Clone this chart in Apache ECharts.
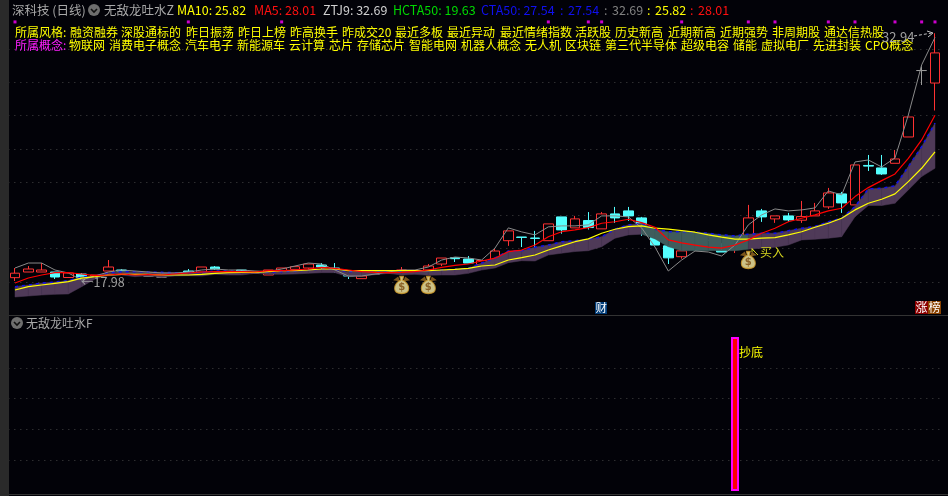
<!DOCTYPE html>
<html><head><meta charset="utf-8">
<style>html,body{margin:0;padding:0;background:#020208}#c{width:948px;height:496px}</style>
<script src="https://cdn.jsdelivr.net/npm/echarts@6/dist/echarts.min.js"></script>
</head><body><div id="c"></div>
<script>
// [open, close, low, high]
const candles = [
[18.26,18.53,18.06,18.84],[18.6,18.78,18.6,18.96],[18.6,18.72,18.6,19.14],[18.6,18.3,18.18,18.6],[18.27,18.54,18.27,18.6],
[18.48,18.24,17.98,18.54],[18.36,18.42,18.36,18.42],[18.66,18.9,18.66,19.32],[18.72,18.66,18.66,18.78],[18.5,18.56,18.5,18.56],
[18.36,18.36,18.36,18.36],[18.3,18.3,18.3,18.3],[18.4,18.46,18.4,18.46],[18.66,18.6,18.6,18.78],[18.6,18.9,18.6,18.9],
[18.9,18.78,18.72,18.96],[18.54,18.54,18.54,18.54],[18.72,18.66,18.66,18.72],[18.54,18.54,18.54,18.54],[18.42,18.72,18.42,18.72],
[18.66,18.84,18.66,18.84],[18.76,18.92,18.76,18.92],[18.84,19.08,18.72,19.08],[19.02,18.9,18.78,19.14],[18.84,18.78,18.54,19.14],
[18.46,18.36,18.18,18.46],[18.2,18.36,18.2,18.36],[18.46,18.46,18.46,18.46],[18.54,18.6,18.54,18.6],[18.66,18.72,18.66,18.9],
[18.54,18.54,18.54,18.54],[18.72,18.96,18.72,19.08],[19.08,19.44,18.96,19.44],[19.46,19.4,19.2,19.46],[19.38,19.14,19.14,19.56],
[19.05,19.29,19.05,19.29],[19.32,19.86,19.2,20.0],[20.48,21.07,20.17,21.07],[20.7,20.68,20.1,20.7],[20.64,20.62,20.1,21.07],
[20.48,21.49,20.48,21.49],[21.91,21.13,20.9,21.91],[21.25,21.79,21.25,21.97],[21.69,21.27,21.15,22.2],[21.19,22.09,21.19,22.2],
[22.09,21.85,21.55,22.51],[22.27,21.97,21.67,22.51],[21.85,21.43,20.77,21.91],[20.7,20.22,20.22,20.9],[20.17,19.45,19.08,20.17],
[19.52,19.87,19.4,19.87],[20.4,20.6,20.4,20.6],[20.5,20.7,20.5,20.7],[20.3,19.8,19.8,20.3],[20.0,20.6,19.74,20.7],
[20.53,21.85,20.53,22.63],[22.27,21.91,21.61,22.39],[21.79,21.97,21.55,21.97],[21.97,21.73,21.61,22.15],[21.71,21.93,21.55,22.87],
[21.97,22.27,21.97,22.75],[22.51,23.35,22.39,23.65],[23.29,22.75,22.15,23.41],[22.63,25.03,22.63,25.03],[25.0,24.96,24.67,25.63],
[24.85,24.49,24.43,25.63],[25.13,25.39,25.13,25.93],[26.71,27.91,26.71,27.91],[30.7,30.7,29.83,30.95],[29.95,31.76,28.3,32.94]];
const ztj9 = [18.84,19.14,19.14,18.72,18.54,18.12,18.36,18.6,18.72,18.66,
18.6,18.54,18.54,18.6,18.72,18.78,18.72,18.72,18.66,18.63,
18.78,18.96,19.14,19.08,18.72,18.36,18.36,18.48,18.6,18.72,
18.72,18.9,19.32,19.5,19.44,19.32,20.04,21.25,21.01,20.83,
21.31,21.37,21.37,21.43,21.97,21.97,21.91,21.25,20.1,18.66,
19.32,19.86,19.8,19.56,20.22,21.43,22.03,22.39,22.27,22.33,
22.45,23.47,23.23,25.21,25.33,24.91,25.45,28.03,31.04,32.69];
const ma5 = [17.94,18.24,18.42,18.56,18.56,18.48,18.38,18.42,18.48,18.42,
18.45,18.42,18.48,18.54,18.6,18.62,18.63,18.62,18.6,18.68,
18.68,18.72,18.78,18.88,18.82,18.72,18.62,18.58,18.56,18.58,
18.62,18.72,18.88,19.0,19.08,19.26,19.43,19.82,19.92,20.22,
20.72,21.02,21.13,21.27,21.53,21.62,21.77,21.57,21.29,20.53,
20.35,20.22,20.09,20.03,20.22,20.53,20.93,21.23,21.62,21.83,
22.03,22.27,22.43,23.13,23.67,24.09,24.49,25.43,26.53,28.01];
const ma10 = [17.52,17.72,17.82,17.92,18.02,18.23,18.32,18.42,18.46,18.46,
18.46,18.42,18.42,18.42,18.46,18.52,18.56,18.58,18.58,18.62,
18.68,18.68,18.72,18.78,18.78,18.68,18.68,18.68,18.68,18.68,
18.68,18.68,18.72,18.76,18.82,18.96,19.02,19.32,19.46,19.62,
19.92,20.17,20.42,20.59,20.93,21.17,21.33,21.37,21.23,21.17,
21.08,20.99,20.83,20.69,20.57,20.57,20.63,20.66,20.83,21.02,
21.29,21.53,21.83,22.33,22.73,22.97,23.29,24.03,24.83,25.82];
const cta50 = [17.72,17.82,17.94,18.0,18.08,18.3,18.36,18.56,18.62,18.62,
18.6,18.58,18.56,18.56,18.58,18.66,18.66,18.62,18.58,18.58,
18.62,18.66,18.72,18.78,18.76,18.62,18.66,18.66,18.66,18.66,
18.66,18.68,18.72,18.76,18.82,19.14,19.44,19.86,19.88,20.09,
20.22,20.42,20.48,20.57,20.72,21.17,21.43,21.53,21.17,21.02,
21.02,20.99,20.93,20.83,20.77,20.87,20.93,20.93,21.08,21.23,
21.33,21.62,21.83,22.53,23.59,23.63,23.77,24.93,26.13,27.54];
const bandLow = [17.1,17.16,17.22,17.26,17.28,17.72,18.18,18.38,18.42,18.32,
18.38,18.29,18.36,18.38,18.36,18.46,18.42,18.42,18.52,18.46,
18.46,18.48,18.52,18.56,18.56,18.32,18.36,18.44,18.52,18.42,
18.46,18.4,18.42,18.42,18.52,18.72,18.84,19.16,19.28,19.26,
19.62,19.73,19.83,19.88,20.12,20.63,20.83,20.87,20.59,20.12,
19.88,19.88,19.88,19.88,19.88,19.97,20.03,20.09,20.22,20.53,
20.57,20.63,20.72,21.92,22.59,22.59,22.73,23.53,24.33,24.83];
const tealDays = [47,48,49,50,51,52,53,54];
const flagDays = [0,13,20,40,43,44,50,55,57,61,63,66,68,69];
const flagLevel = 33.62;
const bagPoints = [[29,17.82],[31,17.82],[55,19.32]];
const signal = {day:54, value:1};
const highLabel = '32.94', lowLabel = '17.98';
const days = candles.map((_,i)=>String(i));

const titleParts = [
 ['深科技 (日线)',12,'#a8a8a8'],['无敌龙吐水Z',104,'#a8a8a8'],['MA10: 25.82',177,'#ffff00'],['MA5: 28.01',254,'#ff1010'],
 ['ZTJ9: 32.69',323,'#d0d0d0'],['HCTA50: 19.63',393,'#00d800'],['CTA50: 27.54',481,'#1010f0'],[':',560,'#1010f0'],['27.54',568,'#1010f0'],
 [':',604,'#808080'],['32.69',612,'#808080'],[':',647,'#ffff00'],['25.82',655,'#ffff00'],[':',690,'#ff1010'],['28.01',698,'#ff1010']];
const styleTags = [['融资融券',70],['深股通标的',121],['昨日振荡',186],['昨日上榜',238],['昨高换手',290],['昨成交20',342],['最近多板',395],['最近异动',447],['最近情绪指数',500],['活跃股',575],['历史新高',615],['近期新高',668],['近期强势',720],['非周期股',772],['通达信热股',824]];
const conceptTags = [['物联网',69],['消费电子概念',109],['汽车电子',185],['新能源车',237],['云计算',289],['芯片',329],['存储芯片',357],['智能电网',409],['机器人概念',461],['无人机',525],['区块链',565],['第三代半导体',605],['超级电容',681],['储能',733],['虚拟电厂',761],['先进封装',813],['CPO概念',865]];

const FONT = '"Noto Sans CJK SC","Noto Sans",sans-serif';
const T = (text,x,y,fill,size,extra)=>({type:'text',silent:true,z:50,x,y,style:Object.assign({text,fill,font:`${size||12}px ${FONT}`,textVerticalAlign:'middle'},extra||{})});
const R = (x,y,w,h,fill)=>({type:'rect',silent:true,z:49,shape:{x,y,width:w,height:h},style:{fill}});
const chevron = (cx,cy)=>[
 {type:'circle',silent:true,z:50,shape:{cx,cy,r:6},style:{fill:'#6e6e6e'}},
 {type:'polyline',silent:true,z:51,shape:{points:[[cx-3,cy-1],[cx,cy+2],[cx+3,cy-1]]},style:{stroke:'#111',lineWidth:1.6,fill:'none'}}];

const graphics = [
 R(0,0,9,496,'#2a2a2a'), R(9,315,939,1,'#333333'), R(9,494,939,1,'#333333'),
 ...chevron(94,10), ...chevron(17,323),
 ...titleParts.map(p=>T(p[0],p[1],10,p[2],12.5)),
 T('所属风格:',15,32,'#ffff00',12), ...styleTags.map(p=>T(p[0],p[1],32,'#ffff00',12)),
 T('所属概念:',15,45,'#ff20ff',12), ...conceptTags.map(p=>T(p[0],p[1],45,'#ffff00',12)),
 T(highLabel,882,37,'#a0a0a0',13), T('←'+lowLabel,81,282,'#a0a0a0',12.5),
 {type:'polyline',silent:true,z:50,shape:{points:[[914,36],[932,33]]},style:{stroke:'#c0c0c0',lineWidth:1,lineDash:[3,2],fill:'none'}},
 {type:'polyline',silent:true,z:50,shape:{points:[[927,31],[933,33],[928,37]]},style:{stroke:'#c0c0c0',lineWidth:1,fill:'none'}},
 {type:'polyline',silent:true,z:50,shape:{points:[[755,252],[752,248.5],[752,252]]},style:{stroke:'#d8d820',lineWidth:1,fill:'none'}},
 {type:'polyline',silent:true,z:50,shape:{points:[[758,255],[752,249]]},style:{stroke:'#d8d820',lineWidth:1,fill:'none'}},
 T('买入',760,252,'#d2d21e',12),
 R(595,302,12,12,'#003c78'), T('财',595.5,308,'#ffffff',11.5),
 R(915,301,13,13,'#8c0000'), R(928,301,13,13,'#8a4200'),
 T('涨',915.5,307.5,'#ffffff',12), T('榜',928.5,307.5,'#ffffff',12),
 T('无敌龙吐水F',26,323,'#a8a8a8',12),
 T('抄底',739,352,'#ffff00',12)
];

const bagPath = 'path://M6 1 L10 1 L9 5 C13 7 15.5 10.5 15.5 14 C15.5 18 12 19.5 8 19.5 C4 19.5 0.5 18 0.5 14 C0.5 10.5 3 7 7 5 Z';
const earPath = 'path://M0 3 L5 0 L7 4 Z M17 3 L12 0 L10 4 Z';

const line = (name,data,color,width,z)=>({name,type:'line',data,xAxisIndex:0,yAxisIndex:0,showSymbol:false,symbol:'none',z,lineStyle:{color,width},silent:true,animation:false});

const bandRows = cta50.slice(0,-1).map((top,i)=>[i,bandLow[i],top,bandLow[i+1],cta50[i+1]]);
function renderBand(params,api){
  const i=api.value(0);
  const p=[api.coord([i,api.value(2)]),api.coord([i+1,api.value(4)]),api.coord([i+1,api.value(3)]),api.coord([i,api.value(1)])];
  const col=tealDays.includes(i)?'#3f5c5c':'#4f3a58';
  return {type:'polygon',shape:{points:p},style:{fill:col,stroke:col,lineWidth:0.5}};
}

const option = {
 backgroundColor:'#020208', animation:false,
 graphic:graphics,
 grid:[{left:8.33,width:933.33,top:15.6,height:299.7},{left:8.33,width:933.33,top:337,height:154}],
 xAxis:[
  {type:'category',gridIndex:0,data:days,boundaryGap:true,axisLine:{show:false},axisTick:{show:false},axisLabel:{show:false},splitLine:{show:false}},
  {type:'category',gridIndex:1,data:days,boundaryGap:true,axisLine:{show:false},axisTick:{show:false},axisLabel:{show:false},splitLine:{show:false}}],
 yAxis:[
  {type:'value',gridIndex:0,min:16,max:34,interval:2,axisLine:{show:false},axisTick:{show:false},axisLabel:{show:false},
   splitLine:{show:true,showMinLine:false,showMaxLine:false,lineStyle:{color:'#444444',type:[1,5],width:1}}},
  {type:'value',gridIndex:1,min:0,max:1,interval:0.2,axisLine:{show:false},axisTick:{show:false},axisLabel:{show:false},
   splitLine:{show:true,showMinLine:false,showMaxLine:false,lineStyle:{color:'#444444',type:[1,5],width:1}}}],
 series:[
  {name:'K',type:'candlestick',xAxisIndex:0,yAxisIndex:0,data:candles,barWidth:10,z:1,silent:true,
   itemStyle:{color:'#020208',color0:'#54ffff',borderColor:'#ff3232',borderColor0:'#54ffff',borderColorDoji:'#9a9a9a',borderWidth:1}},
  {name:'band',type:'custom',xAxisIndex:0,yAxisIndex:0,z:2,silent:true,data:bandRows,renderItem:renderBand,encode:{x:0,y:[1,2,3,4]}},
  Object.assign(line('CTA50',cta50,'#1010f0',1.5,3),{lineStyle:{color:'#1010f0',width:1.5,type:[3,4]}}),
  line('ZTJ9',ztj9,'#8a8a8a',1,4),
  line('MA10',ma10,'#ffff00',1.2,5),
  line('MA5',ma5,'#ff0000',1.2,6),
  {name:'flags',type:'scatter',xAxisIndex:0,yAxisIndex:0,symbol:'rect',symbolSize:3,silent:true,z:7,
   data:flagDays.map(d=>[String(d),flagLevel]),itemStyle:{color:'#ff00ff'}},
  {name:'bagEars',type:'scatter',xAxisIndex:0,yAxisIndex:0,symbol:earPath,symbolSize:[17,5],symbolOffset:[0,-6],silent:true,z:8,
   data:bagPoints.map(p=>[String(p[0]),p[1]]),itemStyle:{color:'#9a6a20'}},
  {name:'bags',type:'scatter',xAxisIndex:0,yAxisIndex:0,symbol:bagPath,symbolSize:[14,17],silent:true,z:9,
   data:bagPoints.map(p=>[String(p[0]),p[1]]),itemStyle:{color:'#fff2a8',borderColor:'#d09a28',borderWidth:1.2},
   label:{show:true,position:'inside',formatter:'$',color:'#7a4a10',fontSize:10,fontWeight:'bold',offset:[0,2],fontFamily:'DejaVu Sans'}},
  {name:'signal',type:'bar',xAxisIndex:1,yAxisIndex:1,barWidth:8,silent:true,z:3,
   data:days.map((d,i)=>i===signal.day?signal.value:null),
   itemStyle:{color:'#ff0000',borderColor:'#ff00ff',borderWidth:2}}
 ]
};
const chart = echarts.init(document.getElementById('c'),null,{renderer:'canvas'});
chart.setOption(option);
</script></body></html>
